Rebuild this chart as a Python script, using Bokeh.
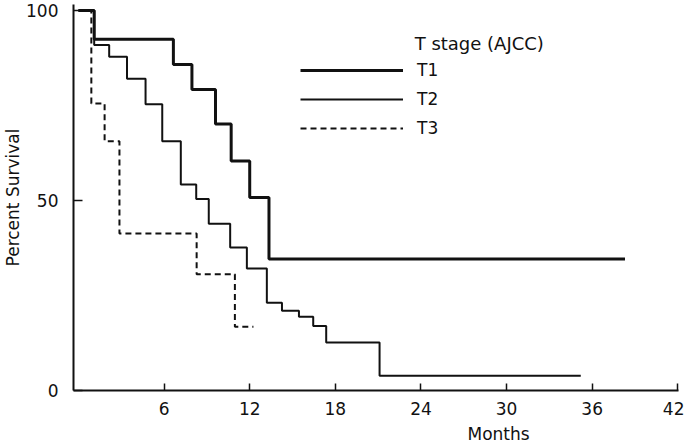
from bokeh.plotting import figure
from bokeh.models import FixedTicker, Legend, LegendItem, Label, Range1d, Title
from bokeh.embed import file_html
from bokeh.resources import INLINE

# Kaplan-Meier survival by T stage (AJCC)
t1_months = [0, 1.1, 6.65, 7.95, 9.6, 10.7, 12.0, 13.35, 38.3]
t1_surv = [100, 92.4, 85.8, 79.2, 70.1, 60.4, 50.8, 34.6, 34.6]

t2_months = [0, 1.1, 2.15, 3.4, 4.7, 5.87, 7.17, 8.25, 9.13, 10.63, 11.8,
             13.2, 14.26, 15.45, 16.45, 17.36, 21.1, 35.2]
t2_surv = [100, 90.9, 87.8, 82.0, 75.3, 65.6, 54.2, 50.4, 43.9, 37.6, 32.1,
           23.1, 21.0, 19.4, 17.0, 12.6, 3.9, 3.9]

t3_months = [0, 0.9, 1.83, 2.87, 8.28, 10.96, 12.26]
t3_surv = [100, 75.5, 65.6, 41.3, 30.6, 16.8, 16.8]

x_ticks = [6, 12, 18, 24, 30, 36, 42]
y_ticks = [0, 50, 100]
series_labels = ["T1", "T2", "T3"]
legend_title = "T stage (AJCC)"
x_title = "Months"
y_title = "Percent Survival"

FONT = "DejaVu Sans"
INK = "#111111"

p = figure(width=684, height=448, output_backend="svg", toolbar_location=None,
           x_range=Range1d(-0.35, 42.05), y_range=Range1d(0, 101.57),
           min_border_left=68, min_border_right=6, min_border_top=4,
           min_border_bottom=57)
p.outline_line_color = None
p.xgrid.visible = False
p.ygrid.visible = False
p.background_fill_color = "white"
p.border_fill_color = "white"

for ax in (p.xaxis[0], p.yaxis[0]):
    ax.axis_line_width = 2
    ax.axis_line_color = INK
    ax.major_tick_line_color = INK
    ax.major_tick_line_width = 1.5
    ax.major_tick_out = 0
    ax.minor_tick_line_color = None
    ax.major_label_text_font = FONT
    ax.major_label_text_font_size = "17px"
    ax.major_label_text_color = INK

p.xaxis.ticker = FixedTicker(ticks=x_ticks)
p.xaxis.major_tick_in = 7
p.xaxis.major_label_standoff = 11
p.yaxis.ticker = FixedTicker(ticks=y_ticks)
p.yaxis.major_tick_in = 9
p.yaxis.major_label_standoff = 15
p.yaxis.axis_label = y_title
p.yaxis.axis_label_standoff = 0
p.yaxis.axis_label_text_font = FONT
p.yaxis.axis_label_text_font_size = "17px"
p.yaxis.axis_label_text_font_style = "normal"
p.yaxis.axis_label_text_color = INK

r1 = p.step(t1_months, t1_surv, mode="after", line_width=3, line_color=INK)
r2 = p.step(t2_months, t2_surv, mode="after", line_width=2, line_color=INK)
r3 = p.step(t3_months, t3_surv, mode="after", line_width=2, line_color=INK,
            line_dash="6 4")

legend = Legend(items=[LegendItem(label=lab, renderers=[r])
                       for lab, r in zip(series_labels, [r1, r2, r3])],
                location=(227, 252), padding=0, margin=0, spacing=9,
                glyph_width=103, glyph_height=20, label_height=20,
                label_standoff=14, border_line_alpha=0,
                background_fill_alpha=0,
                label_text_font=FONT, label_text_font_size="17px",
                label_text_color=INK)
p.add_layout(legend)

p.add_layout(Label(x=23.56, y=91.2, text=legend_title, text_font=FONT,
                   text_font_size="18px", text_color=INK,
                   text_baseline="middle", text_align="left"))

p.add_layout(Title(text=x_title, align="left", offset=394, standoff=9,
                   text_font=FONT, text_font_size="17px",
                   text_font_style="normal", text_color=INK), "below")

open("out.html", "w").write(file_html(p, INLINE))
